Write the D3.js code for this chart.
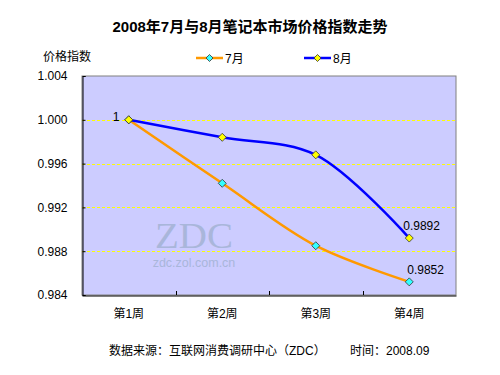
<!DOCTYPE html>
<html><head><meta charset="utf-8">
<script src="https://cdn.jsdelivr.net/npm/d3@7"></script>
<style>body{margin:0;background:#fff}svg{display:block}text{font-family:"Liberation Sans","Noto Sans CJK SC",sans-serif}</style>
</head><body><svg id="c" width="500" height="375"></svg>
<script>
const categories = ["第1周","第2周","第3周","第4周"];
const july = [1, 0.9942, 0.9885, 0.9852];
const august = [1, 0.9984, 0.9968, 0.9892];
const yTicks = [0.984, 0.988, 0.992, 0.996, 1.000, 1.004];
const seriesNames = ["7月","8月"];

const svg = d3.select("#c");
const L=82, R=456, T=76, B=295;
const x = d3.scaleBand().domain(categories).range([L,R]);
const y = d3.scaleLinear().domain([0.984,1.004]).range([B,T]);

svg.append("rect").attr("x",L).attr("y",T).attr("width",R-L).attr("height",B-T).attr("fill","#CCCCFF").attr("stroke","#808080").attr("stroke-width",1);

// grid
svg.append("g").selectAll("line").data(yTicks.slice(1,5)).join("line")
 .attr("x1",L).attr("x2",R).attr("y1",d=>Math.round(y(d))+0.5).attr("y2",d=>Math.round(y(d))+0.5)
 .attr("stroke","#FFFF00").attr("stroke-dasharray","3,2").attr("stroke-width",1);

// watermark
svg.append("text").attr("x",194).attr("y",248).attr("text-anchor","middle").style("font-family","'Liberation Serif','DejaVu Serif',serif").attr("font-size",36).attr("fill","#A9B6DA").attr("textLength",78).attr("lengthAdjust","spacingAndGlyphs").text("ZDC");
svg.append("text").attr("x",194).attr("y",267).attr("text-anchor","middle").attr("font-size",12.5).attr("fill","#A9B6DA").text("zdc.zol.com.cn");

// axes
const ya = d3.axisLeft(y).tickValues(yTicks).tickFormat(d3.format(".3f")).tickSize(-3).tickPadding(15);
const gy = svg.append("g").attr("transform",`translate(${L+0.5},0)`).call(ya);
gy.select(".domain").attr("stroke","#000");
gy.selectAll("text").attr("font-size",12).attr("fill","#000");
const xa = d3.axisBottom(x).tickSize(0).tickPadding(14);
const gx = svg.append("g").attr("transform",`translate(0,${B+0.5})`).call(xa);
gx.select(".domain").attr("stroke","#000");
gx.selectAll("text").attr("font-size",12).attr("fill","#000");
// x ticks between categories
svg.append("g").selectAll("line").data(categories.slice(1)).join("line")
 .attr("x1",d=>Math.round(x(d))+0.5).attr("x2",d=>Math.round(x(d))+0.5).attr("y1",B).attr("y2",B-4).attr("stroke","#000");

const cx = d=>x(d)+x.bandwidth()/2;
const line = d3.line().x((d,i)=>cx(categories[i])).y(d=>y(d)).curve(d3.curveCatmullRom.alpha(0.5));
const series = [{name:seriesNames[0],vals:july,color:"#FF9900",fill:"#33FFFF"},{name:seriesNames[1],vals:august,color:"#0000FF",fill:"#FFFF00"}];
const diamond = (cxp,cyp,r)=>`M${cxp},${cyp-r}L${cxp+r},${cyp}L${cxp},${cyp+r}L${cxp-r},${cyp}Z`;
series.forEach(s=>{
  svg.append("path").attr("d",line(s.vals)).attr("fill","none").attr("stroke",s.color).attr("stroke-width",2.5);
});
series.forEach(s=>{
  svg.append("g").selectAll("path").data(s.vals).join("path")
   .attr("d",(d,i)=>diamond(cx(categories[i]),y(d),4)).attr("fill",s.fill).attr("stroke","#333").attr("stroke-width",0.8);
});

// data labels
svg.append("text").attr("x",cx(categories[0])-16).attr("y",y(august[0])+1).attr("font-size",12).text(d3.format("")(august[0]));
svg.append("text").attr("x",cx(categories[3])-6).attr("y",y(august[3])-8).attr("font-size",12).text(august[3]);
svg.append("text").attr("x",cx(categories[3])-2).attr("y",y(july[3])-8).attr("font-size",12).text(july[3]);

// title
svg.append("text").attr("x",250).attr("y",32).attr("text-anchor","middle").attr("font-size",15).attr("font-weight","bold").text("2008年7月与8月笔记本市场价格指数走势");
svg.append("text").attr("x",43).attr("y",61).attr("font-size",12).text("价格指数");

// legend
const lg=[{x:196},{x:304}];
series.forEach((s,i)=>{
  const g=svg.append("g");
  const lx=lg[i].x;
  g.append("line").attr("x1",lx).attr("x2",lx+27).attr("y1",58).attr("y2",58).attr("stroke",s.color).attr("stroke-width",2.5);
  g.append("path").attr("d",diamond(lx+13.5,58,3.5)).attr("fill",s.fill).attr("stroke","#333").attr("stroke-width",0.8);
  g.append("text").attr("x",lx+29).attr("y",63).attr("font-size",12).text(s.name);
});

// footer
svg.append("text").attr("x",109).attr("y",355).attr("font-size",12).text("数据来源：互联网消费调研中心（ZDC）");
svg.append("text").attr("x",350).attr("y",355).attr("font-size",12).text("时间：2008.09");
</script></body></html>
